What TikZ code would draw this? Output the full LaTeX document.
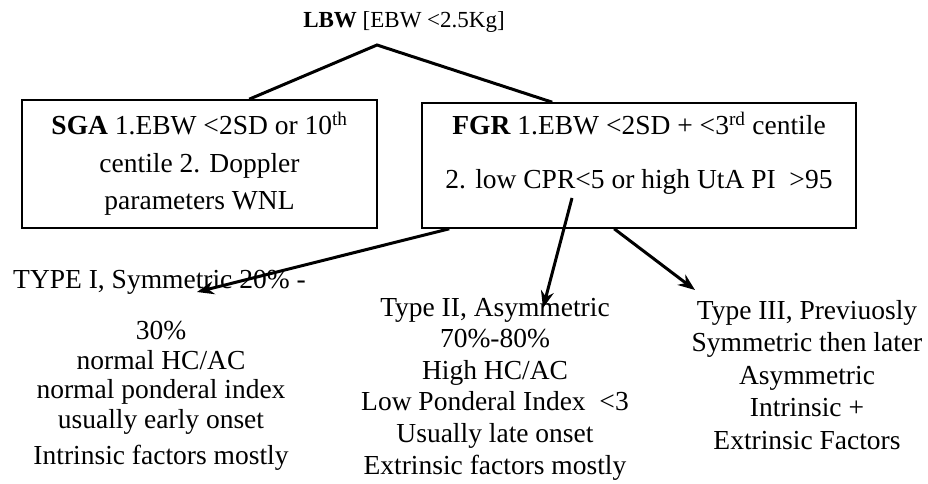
\documentclass[tikz,border=0pt]{standalone}
\usepackage{fontspec}
\setmainfont{Liberation Serif}
\usetikzlibrary{arrows.meta}
\begin{document}
\begin{tikzpicture}[x=1pt,y=-1pt,
  boxed/.style={draw,line width=1.6pt,inner sep=0pt},
  txt/.style={inner sep=0pt,align=center},
  branch/.style={line width=3pt},
  arr/.style={line width=3pt,-{Stealth[length=17pt,width=13pt]}}]
\useasboundingbox (0,0) rectangle (928,484);
% title
\node[txt,font={\fontsize{23}{26}\selectfont}] (lbw) at (404,22) {\textbf{LBW} [EBW <2.5Kg]};
\coordinate (apex) at (377,45);
% boxes
\node[boxed,minimum width=355pt,minimum height=128pt,align=center,
  font={\fontsize{27.5}{37.5}\selectfont}] (sga) at (199.5,164)
  {\textbf{SGA} 1.EBW <2SD or 10\textsuperscript{th}\\centile 2. Doppler\\parameters WNL};
\node[boxed,minimum width=434pt,minimum height=125pt] (fgr) at (639,165.5) {};
\node[txt,font={\fontsize{27.5}{54}\selectfont}] (fgrtext) at (639,153)
  {\textbf{FGR} 1.EBW <2SD + <3\textsuperscript{rd} centile\\2. low CPR<5 or high UtA PI\ \ >95};
% branch lines
\draw[branch,line join=miter] ([xshift=228pt]sga.north west) -- (apex) -- ([xshift=131pt]fgr.north west);
% type texts
\node[inner sep=0pt,anchor=west,font={\fontsize{27.5}{30}\selectfont}] (t1head) at (13,282) {TYPE I, Symmetric 20\% -};
\node[txt,font={\fontsize{27.5}{29.5}\selectfont}] (t1) at (161,396)
  {30\%\\normal HC/AC\\normal ponderal index\\usually early onset\\[7pt]Intrinsic factors mostly};
\node[txt,font={\fontsize{27.5}{31.6}\selectfont}] (t2) at (495,389)
  {Type II, Asymmetric\\70\%-80\%\\High HC/AC\\Low Ponderal Index\ \ <3\\Usually late onset\\Extrinsic factors mostly};
\node[txt,font={\fontsize{27.5}{32.5}\selectfont}] (t3) at (807,375)
  {Type III, Previuosly\\Symmetric then later\\Asymmetric\\Intrinsic +\\Extrinsic Factors};
% arrow end points
\coordinate (tip1) at (197,292);
\coordinate (tip2) at (543,308);
\coordinate (tip3) at (695,290);
\coordinate (src2) at (572,198);
\draw[arr] ([xshift=28pt]fgr.south west) -- (tip1);
\draw[arr] (src2) -- (tip2);
\draw[arr] ([xshift=193pt]fgr.south west) -- (tip3);
\end{tikzpicture}
\end{document}
